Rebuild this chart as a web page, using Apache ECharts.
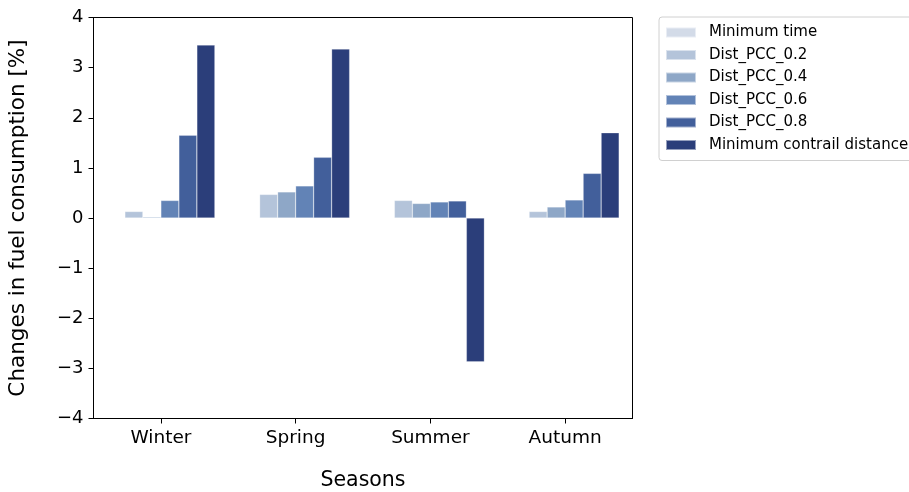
<!DOCTYPE html>
<html>
<head>
<meta charset="utf-8">
<script src="https://cdn.jsdelivr.net/npm/echarts@6/dist/echarts.min.js"></script>
<style>
html,body{margin:0;padding:0;background:#fff;}
#chart{width:909px;height:492px;}
</style>
</head>
<body>
<div id="chart"></div>
<script>
const categories = ['Winter', 'Spring', 'Summer', 'Autumn'];
const seriesNames = ['Minimum time', 'Dist_PCC_0.2', 'Dist_PCC_0.4', 'Dist_PCC_0.6', 'Dist_PCC_0.8', 'Minimum contrail distance'];
const minimumTime = [0, 0, 0, 0];
const distPCC02 = [0.13, 0.47, 0.35, 0.13];
const distPCC04 = [0.02, 0.52, 0.29, 0.22];
const distPCC06 = [0.35, 0.64, 0.32, 0.36];
const distPCC08 = [1.65, 1.21, 0.34, 0.89];
const minContrailDist = [3.45, 3.37, -2.87, 1.70];
const colors = ['#d3dbe8', '#b4c4da', '#8ea7c7', '#6283b6', '#425f9b', '#2b3e7a'];

const allData = [minimumTime, distPCC02, distPCC04, distPCC06, distPCC08, minContrailDist];
const font = 'DejaVu Sans';

const chart = echarts.init(document.getElementById('chart'), null, {renderer: 'canvas'});
chart.setOption({
  animation: false,
  backgroundColor: '#fff',
  textStyle: {fontFamily: font},
  grid: {
    left: 93.5, right: 276.5, top: 17.5, bottom: 73.5,
    containLabel: false,
    outerBoundsMode: 'none',
    show: true, borderColor: '#000', borderWidth: 1, backgroundColor: 'transparent'
  },
  legend: {
    orient: 'vertical',
    left: 659, top: 17,
    padding: [8, 20, 8, 6],
    itemWidth: 30, itemHeight: 10, itemGap: 7.5,
    borderColor: '#d0d0d0', borderWidth: 1, borderRadius: 3,
    icon: 'rect',
    textStyle: {fontFamily: font, fontSize: 15, color: '#000', padding: [0, 0, 0, 8]},
    data: seriesNames
  },
  xAxis: {
    type: 'category',
    data: categories,
    boundaryGap: true,
    name: 'Seasons',
    nameLocation: 'middle',
    nameGap: 52,
    nameTextStyle: {fontFamily: font, fontSize: 20.5, color: '#000'},
    axisLine: {show: true, onZero: false, lineStyle: {color: '#000', width: 1}},
    axisTick: {show: true, alignWithLabel: true, length: 5, lineStyle: {color: '#000'}},
    axisLabel: {fontFamily: font, fontSize: 18.5, color: '#000', margin: 10},
    splitLine: {show: false}
  },
  yAxis: {
    type: 'value',
    min: -4, max: 4, interval: 1,
    name: 'Changes in fuel consumption [%]',
    nameLocation: 'middle',
    nameRotate: 90,
    nameGap: 64,
    nameTextStyle: {fontFamily: font, fontSize: 21.5, color: '#000'},
    axisLine: {show: true, onZero: false, lineStyle: {color: '#000', width: 1}},
    axisTick: {show: true, length: 5, lineStyle: {color: '#000'}},
    axisLabel: {fontFamily: font, fontSize: 18, color: '#000', margin: 10,
      formatter: v => String(v).replace('-', '\u2212')},
    splitLine: {show: false}
  },
  series: seriesNames.map((n, i) => ({
    name: n,
    type: 'bar',
    data: allData[i],
    barWidth: 18,
    barGap: '0%',
    itemStyle: {color: colors[i], borderColor: 'rgba(255,255,255,0.5)', borderWidth: 0.5}
  }))
});
</script>
</body>
</html>
